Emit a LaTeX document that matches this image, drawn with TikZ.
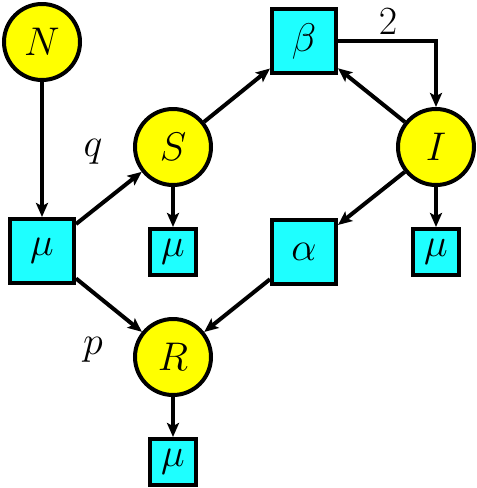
\RequirePackage{fix-cm}
\documentclass[tikz,border=0pt]{standalone}
\usetikzlibrary{arrows.meta}
\definecolor{cyanfill}{RGB}{30,255,255}
\definecolor{yellowfill}{RGB}{255,255,0}
\begin{document}
\begin{tikzpicture}[x=1pt,y=-1pt,
  lw/.style={line width=4pt},
  big/.style={font=\fontsize{40}{48}\selectfont},
  st/.style={circle,draw,lw,fill=yellowfill,minimum size=76pt,inner sep=0pt,big},
  bigbox/.style={rectangle,draw,lw,fill=cyanfill,minimum size=64pt,inner sep=0pt,big},
  smallbox/.style={rectangle,draw,lw,fill=cyanfill,minimum size=46pt,inner sep=0pt,big},
  lab/.style={big,inner sep=0pt},
  arr/.style={lw,-{Stealth[length=14pt,width=12pt,inset=3pt]}}]
\useasboundingbox (0,0) rectangle (477,488);
\node[st] (N) at (42,42) {$N$};
\node[st] (S) at (173,147) {$S$};
\node[st] (I) at (436,147) {$I$};
\node[st] (R) at (173,357) {$R$};
\node[bigbox] (beta) at (304,41) {$\beta$};
\node[bigbox] (mu1) at (42,251) {$\mu$};
\node[bigbox] (alpha) at (304,252) {$\alpha$};
\node[smallbox] (mu2) at (173,252) {$\mu$};
\node[smallbox] (mu3) at (436,252) {$\mu$};
\node[smallbox] (mu4) at (173,462) {$\mu$};
\node[lab] (q) at (93,152) {$q$};
\node[lab] (p) at (93,350) {$p$};
\node[lab] (two) at (388,22) {$2$};
\draw[arr] (N) -- (mu1);
\draw[arr] (mu1) -- (S);
\draw[arr] (mu1) -- (R);
\draw[arr] (S) -- (mu2);
\draw[arr] (S) -- (beta);
\draw[arr] (I) -- (beta);
\draw[arr] (beta.east) -| (I.north);
\draw[arr] (I) -- (alpha);
\draw[arr] (alpha) -- (R);
\draw[arr] (I) -- (mu3);
\draw[arr] (R) -- (mu4);
\end{tikzpicture}
\end{document}
